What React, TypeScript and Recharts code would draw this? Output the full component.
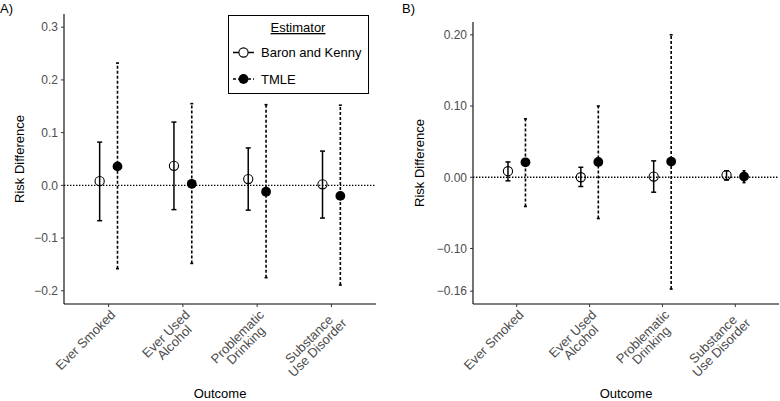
import React from "react"
import {
  ComposedChart,
  Scatter,
  ErrorBar,
  XAxis,
  YAxis,
  ReferenceLine,
  Label,
  Legend,
} from "recharts"

const outcomeLabels = [
  ["Ever Smoked"],
  ["Ever Used", "Alcohol"],
  ["Problematic", "Drinking"],
  ["Substance", "Use Disorder"],
]
const outcomePositions = [1, 2, 3, 4]
const estimators = ["Baron and Kenny", "TMLE"]

// Panel A
const bkEstA = [0.008, 0.037, 0.012, 0.002]
const bkLowA = [-0.067, -0.046, -0.047, -0.062]
const bkHighA = [0.082, 0.12, 0.071, 0.065]
const tmleEstA = [0.036, 0.003, -0.012, -0.02]
const tmleLowA = [-0.158, -0.148, -0.175, -0.189]
const tmleHighA = [0.232, 0.155, 0.153, 0.152]
const yTicksA = [-0.2, -0.1, 0, 0.1, 0.2, 0.3]

// Panel B
const bkEstB = [0.0085, 0.0, 0.001, 0.003]
const bkLowB = [-0.005, -0.013, -0.021, -0.004]
const bkHighB = [0.0215, 0.014, 0.023, 0.009]
const tmleEstB = [0.021, 0.0215, 0.022, 0.001]
const tmleLowB = [-0.041, -0.058, -0.157, -0.0075]
const tmleHighB = [0.082, 0.1, 0.2, 0.009]
const yTicksB = [-0.16, -0.1, 0, 0.1, 0.2]

const DODGE = 0.12
const FONT = '"Liberation Sans", Arial, sans-serif'
const CAT_SIZE = 13

interface Point {
  x: number
  y: number
  err: [number, number]
}

function buildPoints(est: number[], low: number[], high: number[], offset: number): Point[] {
  return est.map((y, i) => ({
    x: outcomePositions[i] + offset,
    y,
    err: [y - low[i], high[i] - y],
  }))
}

function formatTick(digits: number) {
  return (v: number) => {
    const s = Math.abs(v).toFixed(digits)
    return v < -1e-9 ? `\u2212${s}` : s
  }
}

let measureCtx: CanvasRenderingContext2D | null = null
function textWidth(s: string, size: number): number {
  if (!measureCtx) measureCtx = document.createElement("canvas").getContext("2d")
  if (!measureCtx) return s.length * size * 0.55
  measureCtx.font = `${size}px ${FONT}`
  return measureCtx.measureText(s).width
}

// multi-line labels: block right-anchored at the tick, lines centred inside the block
function OutcomeTick({ x, y, payload }: any) {
  const lines = outcomeLabels[Math.round(payload.value) - 1] ?? []
  const blockW = Math.max(...lines.map((l) => textWidth(l, CAT_SIZE)))
  return (
    <g transform={`translate(${x + 1},${y})`}>
      <text transform="rotate(-45)" textAnchor="middle" fill="#4D4D4D" fontSize={CAT_SIZE}>
        {lines.map((line, i) => (
          <tspan key={line} x={-blockW / 2} dy={i === 0 ? "0.72em" : "0.92em"}>
            {line}
          </tspan>
        ))}
      </text>
    </g>
  )
}

const hollowDot = (p: any) => (
  <circle cx={p.cx} cy={p.cy} r={4.6} fill="none" stroke="#000" strokeWidth={1.1} />
)
const filledDot = (p: any) => <circle cx={p.cx} cy={p.cy} r={4.9} fill="#000" />

function EstimatorLegend() {
  return (
    <svg width={141} height={79} style={{ display: "block" }}>
      <rect x={0.5} y={0.5} width={140} height={78} fill="#fff" stroke="#000" strokeWidth={1} />
      <text
        x={70}
        y={17}
        textAnchor="middle"
        fontSize={13}
        fill="#000"
        style={{ textDecoration: "underline" }}
      >
        Estimator
      </text>
      <line x1={5} y1={37.5} x2={26} y2={37.5} stroke="#000" strokeWidth={1.5} />
      <circle cx={15.5} cy={37.5} r={4.6} fill="#fff" stroke="#000" strokeWidth={1.1} />
      <text x={33} y={42} fontSize={13} fill="#000">
        {estimators[0]}
      </text>
      <line
        x1={5}
        y1={64}
        x2={26}
        y2={64}
        stroke="#000"
        strokeWidth={1.5}
        strokeDasharray="3 2"
      />
      <circle cx={15.5} cy={64} r={4.9} fill="#000" />
      <text x={33} y={68.5} fontSize={13} fill="#000">
        {estimators[1]}
      </text>
    </svg>
  )
}

interface PanelProps {
  bk: Point[]
  tmle: Point[]
  domain: [number, number]
  ticks: number[]
  digits: number
  top: number
  right: number
  axisWidth: number
  titleX: number
  showLegend?: boolean
}

function Panel({ bk, tmle, domain, ticks, digits, top, right, axisWidth, titleX, showLegend }: PanelProps) {
  const yTitle = (props: any) => {
    const vb = props.viewBox
    const cy = vb.y + vb.height / 2
    return (
      <text
        x={titleX}
        y={cy}
        transform={`rotate(-90 ${titleX} ${cy})`}
        textAnchor="middle"
        dominantBaseline="central"
        fontSize={13}
        fill="#000"
      >
        Risk Difference
      </text>
    )
  }

  return (
    <ComposedChart width={390} height={401} margin={{ top, right, bottom: 0, left: 0 }}>
      <XAxis
        type="number"
        dataKey="x"
        domain={[0.4, 4.6]}
        ticks={outcomePositions}
        interval={0}
        allowDataOverflow
        tick={<OutcomeTick />}
        tickSize={3}
        tickMargin={2}
        tickLine={{ stroke: "#333" }}
        axisLine={{ stroke: "#000", strokeWidth: 1.1 }}
        height={97}
      >
        <Label value="Outcome" position="insideBottom" offset={3} fontSize={13} fill="#000" />
      </XAxis>
      <YAxis
        type="number"
        dataKey="y"
        domain={domain}
        ticks={ticks}
        interval={0}
        allowDataOverflow
        tickFormatter={formatTick(digits)}
        tick={{ fill: "#4D4D4D", fontSize: 12 }}
        tickSize={3}
        tickMargin={3}
        tickLine={{ stroke: "#333" }}
        axisLine={{ stroke: "#000", strokeWidth: 1.1 }}
        width={axisWidth}
      >
        <Label content={yTitle} />
      </YAxis>
      <ReferenceLine y={0} stroke="#000" strokeWidth={1.3} strokeDasharray="1.4 1.6" />
      <Scatter data={bk} dataKey="y" shape={hollowDot} isAnimationActive={false}>
        <ErrorBar
          dataKey="err"
          direction="y"
          width={2.5}
          stroke="#000"
          strokeWidth={1.5}
          isAnimationActive={false}
        />
      </Scatter>
      <Scatter data={tmle} dataKey="y" shape={filledDot} isAnimationActive={false}>
        <ErrorBar
          dataKey="err"
          direction="y"
          width={1.5}
          stroke="#000"
          strokeWidth={1.6}
          strokeDasharray="3 2"
          isAnimationActive={false}
        />
      </Scatter>
      {showLegend && (
        <Legend
          layout="vertical"
          align="center"
          verticalAlign="middle"
          content={() => <EstimatorLegend />}
          wrapperStyle={{ left: 228, top: 15, width: 141, height: 79 }}
        />
      )}
    </ComposedChart>
  )
}

export default function App() {
  const bkA = buildPoints(bkEstA, bkLowA, bkHighA, -DODGE)
  const tmleA = buildPoints(tmleEstA, tmleLowA, tmleHighA, DODGE)
  const bkB = buildPoints(bkEstB, bkLowB, bkHighB, -DODGE)
  const tmleB = buildPoints(tmleEstB, tmleLowB, tmleHighB, DODGE)

  return (
    <div
      style={{
        position: "absolute",
        left: 0,
        top: 0,
        width: 780,
        height: 401,
        background: "#fff",
        fontFamily: FONT,
        overflow: "hidden",
      }}
    >
      <div style={{ position: "absolute", left: 0, top: 0 }}>
        <Panel
          bk={bkA}
          tmle={tmleA}
          domain={[-0.225, 0.325]}
          ticks={yTicksA}
          digits={1}
          top={14}
          right={14}
          axisWidth={64}
          titleX={19}
          showLegend
        />
      </div>
      <div style={{ position: "absolute", left: 390, top: 0 }}>
        <Panel
          bk={bkB}
          tmle={tmleB}
          domain={[-0.178, 0.218]}
          ticks={yTicksB}
          digits={2}
          top={22}
          right={1}
          axisWidth={83}
          titleX={29}
        />
      </div>
      <div style={{ position: "absolute", left: 0, top: 2, fontSize: 13, lineHeight: "14px" }}>A)</div>
      <div style={{ position: "absolute", left: 402, top: 2, fontSize: 13, lineHeight: "14px" }}>B)</div>
    </div>
  )
}
